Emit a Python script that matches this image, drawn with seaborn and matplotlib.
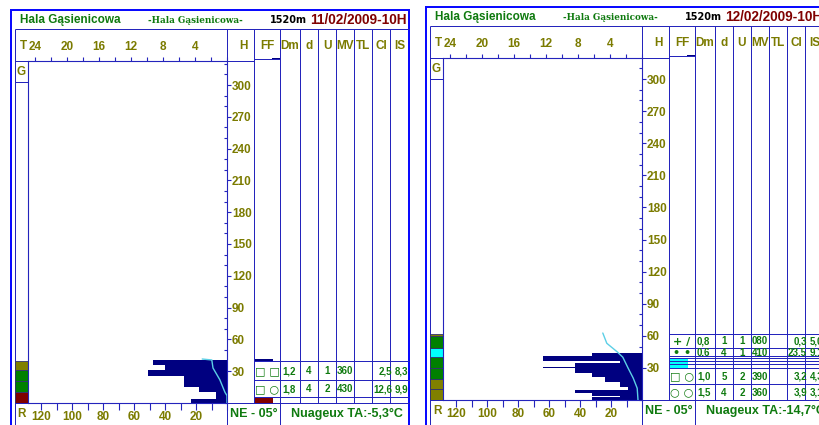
import matplotlib
matplotlib.use("Agg")
import matplotlib.pyplot as plt
import matplotlib.ticker as mticker
from matplotlib.patches import Rectangle
import seaborn as sns

sns.set_theme(style="white")
plt.rcParams["font.family"] = ["Liberation Sans", "DejaVu Sans"]

# ---------------- data ----------------
station = "Hala Gąsienicowa"
station_sub = "-Hala Gąsienicowa-"
altitude = "1520m"
col_headers = ["FF", "Dm", "d", "U", "MV", "TL", "CI", "IS"]
r_ticks = [20, 40, 60, 80, 100, 120]
t_ticks = [4, 8, 12, 16, 20, 24]
h_ticks = [30, 60, 90, 120, 150, 180, 210, 240, 270, 300]

# panel 1 : 11/02/2009
p1_date = "11/02/2009-10H"
p1_ram_bottom = [0.0, 3.8, 10.4, 15.1, 25.5, 31.2, 35.9]
p1_ram_top = [3.8, 10.4, 15.1, 25.5, 31.2, 35.9, 40.6]
p1_ram_r = [23, 7, 18, 28, 51, 40, 48]
p1_temp_h = [41.5, 40.6, 33, 22, 10, 7, 0]
p1_temp_t = [3.1, 1.9, 1.75, 0.9, 0.25, 0.0, 0.0]
p1_grain_bottom = [0, 10, 21, 31]
p1_grain_top = [10, 21, 31, 40]
p1_grain_color = ["#800000", "#008000", "#008000", "#808000"]
p1_table = [["□ □", "1,2", "4", "1", "360", "", "2,5", "8,3"],
            ["□ ○", "1,8", "4", "2", "430", "", "12,6", "9,9"]]
p1_wind = "NE - 05°"
p1_weather = "Nuageux TA:-5,3°C"

# panel 2 : 12/02/2009
p2_date = "12/02/2009-10H"
p2_ram_bottom = [0, 2.5, 4, 6.5, 9.5, 12, 17, 21.5, 25, 29.5, 31, 34.5, 36.5, 41.5]
p2_ram_top = [2.5, 4, 6.5, 9.5, 12, 17, 21.5, 25, 29.5, 31, 34.5, 36.5, 41.5, 44]
p2_ram_r = [32, 14, 32, 43, 9, 14, 24, 32, 43, 64, 43, 14, 64, 32]
p2_temp_h = [62.6, 53, 45, 40, 30, 20.5, 11, 0]
p2_temp_t = [4.9, 4.4, 3.1, 2.4, 1.75, 1.1, 0.6, 0.5]
p2_grain_bottom = [0, 10, 20, 30, 40, 49, 60]
p2_grain_top = [10, 20, 30, 40, 49, 60, 62]
p2_grain_color = ["#808000", "#808000", "#008000", "#008000", "#00ffff", "#008000", "#808000"]
p2_table = [["+ /", "0,8", "1", "1", "080", "", "0,3", "5,0"],
            ["• •", "0,6", "4", "1", "410", "", "23,5", "9,1"],
            ["□ ○", "1,0", "5", "2", "390", "", "3,2", "4,3"],
            ["○ ○", "1,5", "4", "2", "360", "", "3,9", "3,1"]]
p2_wind = "NE - 05°"
p2_weather = "Nuageux TA:-14,7°C"

panels = [
    dict(date=p1_date, rb=p1_ram_bottom, rt=p1_ram_top, rr=p1_ram_r,
         th=p1_temp_h, tt=p1_temp_t, gb=p1_grain_bottom, gt=p1_grain_top,
         gc=p1_grain_color, table=p1_table, wind=p1_wind, weather=p1_weather),
    dict(date=p2_date, rb=p2_ram_bottom, rt=p2_ram_top, rr=p2_ram_r,
         th=p2_temp_h, tt=p2_temp_t, gb=p2_grain_bottom, gt=p2_grain_top,
         gc=p2_grain_color, table=p2_table, wind=p2_wind, weather=p2_weather),
]

# ---------------- layout (pixels) ----------------
layouts = [
    dict(x0=10, dy=0, hscale=1.06,
         rows=[(361, 380), (380, 397)],
         lines=[361, 380, 397],
         markers=[(254, 358.5, 273, 361, "#000080"), (254, 397, 273, 403, "#800000")]),
    dict(x0=425, dy=-3, hscale=1.07,
         rows=[(337, 351), (351, 359), (371, 387), (387, 403)],
         lines=[337, 351, 359, 361, 364, 367, 371, 387],
         markers=[(254, 361, 273, 371, "#00ffff")]),
]

BLUE = "#0a0aff"
NAVY = "#000080"
LINE = "#2424bc"
OLIVE = "#7b7b00"
GREEN = "#0f7a0f"
DRED = "#800000"
CYAN = "#5ccfe6"
PX = 0.72

W, H = 819, 425
fig = plt.figure(figsize=(W / 100, H / 100), dpi=100)
fig.patch.set_facecolor("white")
bg = fig.add_axes([0, 0, 1, 1])
bg.set_xlim(0, W)
bg.set_ylim(H, 0)
bg.axis("off")


def px_axes(x1, y1, x2, y2):
    return fig.add_axes([x1 / W, 1 - y2 / H, (x2 - x1) / W, (y2 - y1) / H])


col_bounds = [254, 280, 300, 318, 336, 354, 372, 390, 410]
col_centers = [(a + b) / 2 for a, b in zip(col_bounds[:-1], col_bounds[1:])]
cell_pos = [(267, "center"), (282, "left"), (309, "center"), (330, "right"),
            (337, "left"), (363, "center"), (392, "right"), (395, "left")]


def draw_panel(p, L):
    dx = L["x0"] - 10
    dy = L["dy"]
    X = lambda v: v + dx
    Y = lambda v: v + dy
    clip = Rectangle((X(10), 0), 400, H, transform=bg.transData)

    def line(xs, ys, c=LINE, lw=1.0):
        ln, = bg.plot([X(v) for v in xs], [Y(v) for v in ys], color=c,
                      lw=lw * PX, solid_capstyle="butt")
        ln.set_clip_path(clip)

    def text(x, y, s, c=OLIVE, size=8.5, ha="left", va="center", clipr=None, **kw):
        t = bg.text(X(x), Y(y), s, color=c, fontsize=size, ha=ha, va=va,
                    fontweight="bold", clip_on=True, **kw)
        t.set_clip_path(clipr if clipr is not None else clip)

    def rect(x1, y1, x2, y2, fc):
        r = Rectangle((X(x1), Y(y1)), x2 - x1, y2 - y1, facecolor=fc,
                      edgecolor="none")
        bg.add_patch(r)
        r.set_clip_path(clip)

    # outer frame
    line([10.5, 10.5], [9, 430], c=BLUE, lw=2)
    line([10, 409], [9.5, 9.5], c=BLUE, lw=2)
    line([408.5, 408.5], [9, 430], c=BLUE, lw=2)

    # title row
    text(20, 20, station, c=GREEN, size=8.5)
    text(148, 20, station_sub, c=GREEN, size=6.3, family="DejaVu Serif")
    text(270, 20, altitude, c="black", size=7, family="DejaVu Sans")
    text(310, 20, p["date"], c=DRED, size=9.8)

    # inner box + grid
    line([15, 15], [29, 430])
    line([15, 420], [29, 29])
    line([227, 227], [29, 430])
    line([254, 254], [29, 403])
    line([280, 280], [29, 430])
    for cx in col_bounds[2:]:
        line([cx, cx], [29, 403])
    line([15, 254], [61, 61])
    line([15, 28], [82, 82])
    line([15, 420], [403, 403])
    line([254, 280], [59, 59])
    rect(272, 57.5, 280, 60, NAVY)

    # header labels
    text(23, 46, "T", ha="center")
    text(243, 46, "H", ha="center")
    for name, cx in zip(col_headers, col_centers):
        text(cx, 46, name, ha="center")
    text(21, 72, "G", ha="center")
    text(22, 414, "R", ha="center")

    # table
    for yl in L["lines"]:
        line([254, 420], [yl, yl])
    for (x1, y1, x2, y2, c) in L["markers"]:
        rect(x1, y1, x2, y2, c)
    for (ya, yb), row in zip(L["rows"], p["table"]):
        rc = Rectangle((X(254), Y(ya)), 155, yb - ya, transform=bg.transData)
        yc = (ya + yb) / 2 + 0.5
        for j, val in enumerate(row):
            if not val:
                continue
            xp, ha = cell_pos[j]
            if j == 0:
                text(xp, yc, val, c=GREEN, size=8, ha=ha, clipr=rc,
                     family=["DejaVu Sans"])
            else:
                text(xp, yc, val, c=GREEN, size=7, ha=ha, clipr=rc)

    # footer
    text(230, 414, p["wind"], c=GREEN, size=9)
    text(291, 414, p["weather"], c=GREEN, size=9)

    # grain strip
    hs = L["hscale"]
    axs = px_axes(X(15), Y(82), X(28), Y(403))
    axs.bar(x=0.5, height=[t - b for b, t in zip(p["gb"], p["gt"])], bottom=p["gb"],
            width=1, color=p["gc"], edgecolor="#303070", linewidth=0.6)
    axs.set_xlim(0, 1)
    axs.set_ylim(0, (403 - 82) / hs)
    axs.set_xticks([])
    axs.set_yticks([])
    for s in axs.spines.values():
        s.set_visible(False)
    axs.patch.set_alpha(0)

    # profile
    ax = px_axes(X(28), Y(61), X(227), Y(403))
    ax.set_facecolor("white")
    ax.barh(y=p["rb"], width=p["rr"], height=[t - b for b, t in zip(p["rb"], p["rt"])],
            left=0, align="edge", color=NAVY, linewidth=0)
    ax.set_xlim(199 / 1.55, 0)
    hmax = (403 - 61) / hs
    ax.set_ylim(0, hmax)
    ax.xaxis.set_major_locator(mticker.FixedLocator(r_ticks))
    ax.xaxis.set_minor_locator(mticker.FixedLocator(list(range(0, 130, 10))))
    ax.yaxis.tick_right()
    ax.yaxis.set_major_locator(mticker.FixedLocator(h_ticks))
    ax.yaxis.set_minor_locator(mticker.FixedLocator(list(range(0, int(hmax), 10))))
    ax.tick_params(axis="x", which="both", direction="out", length=5, width=0.8,
                   color=LINE, labelsize=8.5, labelcolor=OLIVE, pad=1,
                   bottom=True, top=False)
    ax.tick_params(axis="y", which="major", direction="out", length=3, width=0.8,
                   color=LINE, labelsize=8.5, labelcolor=OLIVE, pad=0.5,
                   right=True, left=False)
    ax.tick_params(axis="y", which="minor", direction="in", length=2, width=0.8,
                   color=LINE, right=True, left=False)
    for s in ax.spines.values():
        s.set_color(LINE)
        s.set_linewidth(0.8)
    for lbl in ax.get_xticklabels() + ax.get_yticklabels():
        lbl.set_fontweight("bold")

    axT = ax.twiny()
    sns.lineplot(x=p["tt"], y=p["th"], ax=axT, sort=False, orient="y",
                 estimator=None, color=CYAN, lw=1)
    axT.set_xlim(199 / 8, 0)
    axT.set_ylim(0, hmax)
    axT.xaxis.set_major_locator(mticker.FixedLocator(t_ticks))
    axT.xaxis.set_minor_locator(mticker.FixedLocator(list(range(0, 26, 2))))
    axT.tick_params(axis="x", which="both", direction="out", length=3, width=0.8,
                    color=LINE, labelsize=8.5, labelcolor=OLIVE, pad=3,
                    top=True, bottom=False, labeltop=True, labelbottom=False)
    for lbl in axT.get_xticklabels():
        lbl.set_fontweight("bold")
    for s in axT.spines.values():
        s.set_visible(False)
    ax.set_xlabel("")
    ax.set_ylabel("")
    axT.set_xlabel("")
    axT.set_ylabel("")


for p, L in zip(panels, layouts):
    draw_panel(p, L)

fig.savefig("out.png", dpi=100)
